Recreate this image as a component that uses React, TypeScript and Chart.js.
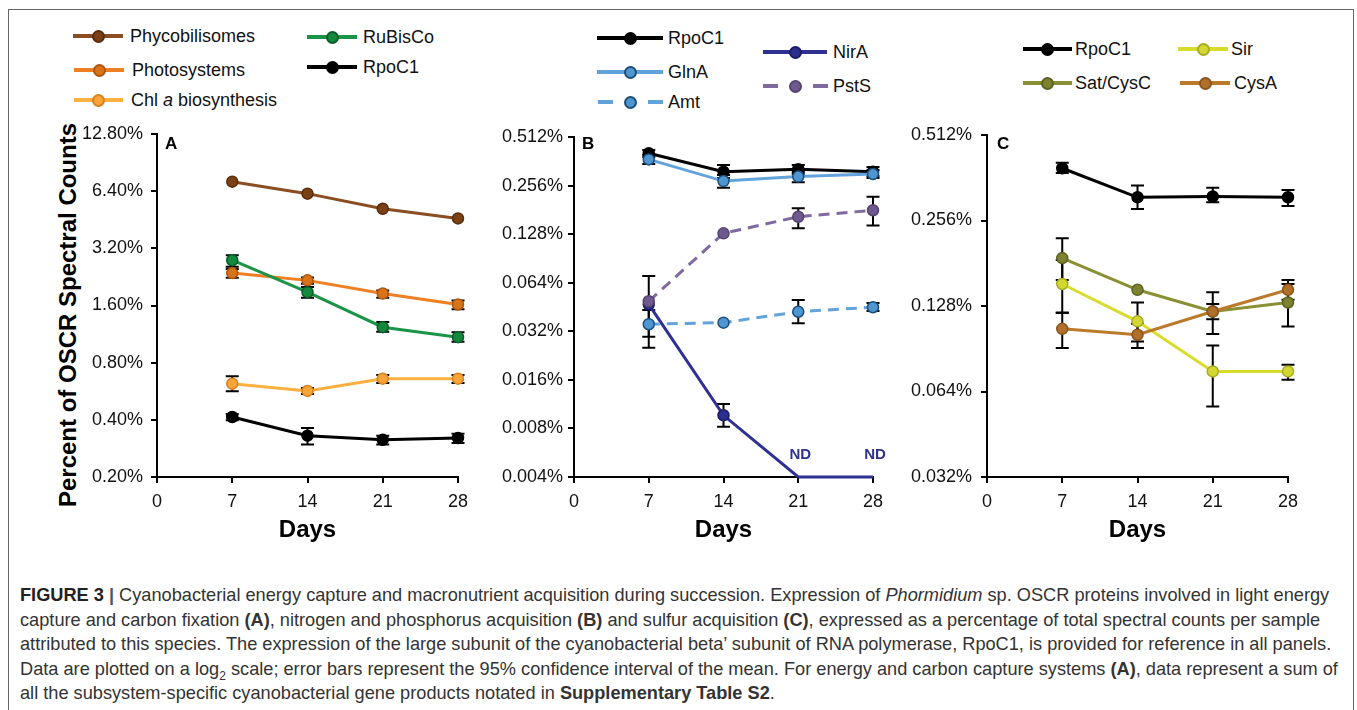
import React, { useEffect, useRef } from 'react';
import { Chart, registerables } from 'chart.js';

Chart.register(...registerables);

const FONT = "'Liberation Sans', Arial, Helvetica, sans-serif";

// ---------- shared x values ----------
const days = [7, 14, 21, 28];

// ---------- Panel A ----------
const aYTicks = [0.2, 0.4, 0.8, 1.6, 3.2, 6.4, 12.8];
const aYTickLabels = ['0.20%', '0.40%', '0.80%', '1.60%', '3.20%', '6.40%', '12.80%'];
const aPhycobilisomes = [7.18, 6.21, 5.17, 4.6];
const aRuBisCo = [2.77, 1.88, 1.23, 1.09];
const aRuBisCoLow = [2.56, 1.76, 1.165, 1.03];
const aRuBisCoHigh = [2.94, 2.0, 1.31, 1.156];
const aPhotosystems = [2.37, 2.17, 1.85, 1.62];
const aPhotosystemsLow = [2.24, 2.08, 1.76, 1.53];
const aPhotosystemsHigh = [2.49, 2.25, 1.92, 1.7];
const aChl = [0.62, 0.568, 0.659, 0.659];
const aChlLow = [0.565, 0.547, 0.625, 0.625];
const aChlHigh = [0.678, 0.588, 0.689, 0.689];
const aRpoC1 = [0.414, 0.33, 0.314, 0.321];
const aRpoC1Low = [0.398, 0.297, 0.297, 0.302];
const aRpoC1High = [0.429, 0.362, 0.33, 0.338];

// ---------- Panel B ----------
const bYTicks = [0.004, 0.008, 0.016, 0.032, 0.064, 0.128, 0.256, 0.512];
const bYTickLabels = ['0.004%', '0.008%', '0.016%', '0.032%', '0.064%', '0.128%', '0.256%', '0.512%'];
const bRpoC1 = [0.406, 0.312, 0.323, 0.312];
const bRpoC1Low = [0.385, 0.285, 0.302, 0.293];
const bRpoC1High = [0.425, 0.343, 0.343, 0.334];
const bGlnA = [0.372, 0.273, 0.291, 0.302];
const bGlnALow = [0.348, 0.248, 0.268, 0.285];
const bGlnAHigh = [0.396, 0.298, 0.311, 0.32];
const bAmt = [0.0354, 0.0362, 0.0423, 0.0451];
const bAmtLow = [0.0296, null, 0.0359, 0.0427];
const bAmtHigh = [0.0434, null, 0.05, 0.0479];
const bPstS = [0.0491, 0.1295, 0.164, 0.18];
const bPstSLow = [0.0253, null, 0.139, 0.145];
const bPstSHigh = [0.0704, null, 0.185, 0.218];
const bNirA = [0.047, 0.00965, 0.004, 0.004];
const bNirALow = [null, 0.0082, null, null];
const bNirAHigh = [null, 0.01134, null, null];
const bNirADetected = [true, true, false, false];

// ---------- Panel C ----------
const cYTicks = [0.032, 0.064, 0.128, 0.256, 0.512];
const cYTickLabels = ['0.032%', '0.064%', '0.128%', '0.256%', '0.512%'];
const cRpoC1 = [0.391, 0.309, 0.311, 0.309];
const cRpoC1Low = [0.376, 0.281, 0.297, 0.288];
const cRpoC1High = [0.409, 0.34, 0.334, 0.328];
const cSatCysC = [0.1887, 0.146, 0.1224, 0.1317];
const cSatCysCLow = [0.158, null, 0.115, 0.1085];
const cSatCysCHigh = [0.2217, null, 0.13, 0.153];
const cSir = [0.153, 0.113, 0.0753, 0.0753];
const cSirLow = [0.1214, 0.096, 0.0567, 0.0704];
const cSirHigh = [0.186, 0.1317, 0.093, 0.0795];
const cCysA = [0.1064, 0.1014, 0.1224, 0.146];
const cCysALow = [0.091, 0.091, 0.102, 0.1346];
const cCysAHigh = [0.121, 0.1108, 0.143, 0.158];

// ---------- colours ----------
const COL = {
  phyco: { line: '#8a4e22', fill: '#7a4116', border: '#5a2c0c' },
  photo: { line: '#ee7f22', fill: '#d9731a', border: '#aa5510' },
  chl: { line: '#fbb040', fill: '#f7a43a', border: '#d9801f' },
  rubisco: { line: '#1c9447', fill: '#14893d', border: '#0b5e2a' },
  rpoc1: { line: '#000000', fill: '#000000', border: '#000000' },
  glna: { line: '#62a3dc', fill: '#4f95d0', border: '#1b4f7a' },
  nira: { line: '#2e3192', fill: '#2b2f8e', border: '#1b1d66' },
  psts: { line: '#7f6a9f', fill: '#6f5a8f', border: '#55446f' },
  sir: { line: '#d8dc2c', fill: '#d3d733', border: '#a9ac1e' },
  sat: { line: '#8b9034', fill: '#7d8230', border: '#5e6223' },
  cysa: { line: '#ba7a2a', fill: '#b0702a', border: '#8a5520' },
};

type Series = {
  label: string;
  values: number[];
  low?: (number | null)[];
  high?: (number | null)[];
  c: { line: string; fill: string; border: string };
  dashed?: boolean;
  detected?: boolean[];
};

const errorBarPlugin = {
  id: 'errorBars',
  beforeDatasetsDraw(chart: any) {
    const ctx = chart.ctx;
    const xs = chart.scales.x;
    const ys = chart.scales.y;
    ctx.save();
    ctx.strokeStyle = '#000';
    ctx.lineWidth = 2;
    chart.data.datasets.forEach((ds: any) => {
      const lo = ds.errLow;
      const hi = ds.errHigh;
      if (!lo || !hi) return;
      ds.data.forEach((pt: any, j: number) => {
        if (lo[j] == null || hi[j] == null) return;
        const x = xs.getPixelForValue(pt.x);
        const y1 = ys.getPixelForValue(hi[j]);
        const y2 = ys.getPixelForValue(lo[j]);
        const w = 6.5;
        ctx.beginPath();
        ctx.moveTo(x, y1);
        ctx.lineTo(x, y2);
        ctx.moveTo(x - w, y1);
        ctx.lineTo(x + w, y1);
        ctx.moveTo(x - w, y2);
        ctx.lineTo(x + w, y2);
        ctx.stroke();
      });
    });
    ctx.restore();
  },
};

const ndPlugin = {
  id: 'ndLabels',
  afterDatasetsDraw(chart: any) {
    const ctx = chart.ctx;
    const xs = chart.scales.x;
    const ys = chart.scales.y;
    chart.data.datasets.forEach((ds: any) => {
      if (!ds.detected) return;
      ds.data.forEach((pt: any, j: number) => {
        if (ds.detected[j]) return;
        ctx.save();
        ctx.fillStyle = ds.borderColor;
        ctx.font = `bold 15px ${FONT}`;
        ctx.textAlign = 'center';
        ctx.textBaseline = 'middle';
        ctx.fillText('ND', xs.getPixelForValue(pt.x) + 2, ys.getPixelForValue(pt.y) - 22);
        ctx.restore();
      });
    });
  },
};

type PanelProps = {
  left: number;
  top: number;
  width: number;
  height: number;
  area: { l: number; t: number; r: number; b: number };
  yTicks: number[];
  yLabels: string[];
  yPad: number;
  series: Series[];
};

function Panel(p: PanelProps) {
  const ref = useRef<HTMLCanvasElement | null>(null);
  useEffect(() => {
    if (!ref.current) return;
    const axisGrid = {
      drawOnChartArea: false,
      drawTicks: true,
      tickLength: 6,
      color: '#000',
      lineWidth: 2,
    };
    const chart = new Chart(ref.current, {
      type: 'line',
      data: {
        datasets: p.series.map((s) => ({
          label: s.label,
          data: days.map((d, i) => ({ x: d, y: s.values[i] })),
          borderColor: s.c.line,
          backgroundColor: s.c.fill,
          pointBackgroundColor: s.c.fill,
          pointBorderColor: s.c.border,
          pointRadius: s.detected ? s.detected.map((v) => (v ? 5.5 : 0)) : 5.5,
          pointBorderWidth: 1.5,
          borderWidth: 3,
          borderDash: s.dashed ? [11, 7] : [],
          tension: 0,
          clip: false,
          errLow: s.low,
          errHigh: s.high,
          detected: s.detected,
        })) as any,
      },
      options: {
        responsive: false,
        animation: false,
        events: [],
        layout: {
          padding: { top: p.area.t - p.top, right: p.left + p.width - p.area.r, bottom: 0, left: 0 },
        },
        plugins: { legend: { display: false }, tooltip: { enabled: false } },
        scales: {
          x: {
            type: 'linear',
            min: 0,
            max: 28,
            ticks: { stepSize: 7, font: { size: 18, family: FONT }, color: '#111', padding: 8 },
            grid: axisGrid,
            border: { color: '#000', width: 2 },
            title: {
              display: true,
              text: 'Days',
              font: { size: 24, weight: 'bold', family: FONT },
              color: '#000',
              padding: { top: 0, bottom: 5 },
            },
            afterFit: (s: any) => {
              s.height = p.top + p.height - p.area.b;
            },
          },
          y: {
            type: 'logarithmic',
            min: p.yTicks[0],
            max: p.yTicks[p.yTicks.length - 1],
            afterBuildTicks: (s: any) => {
              s.ticks = p.yTicks.map((v) => ({ value: v }));
            },
            ticks: {
              autoSkip: false,
              callback: (_v: any, i: number) => p.yLabels[i],
              font: { size: 18, family: FONT },
              color: '#111',
              padding: p.yPad,
            },
            grid: axisGrid,
            border: { color: '#000', width: 2 },
            afterFit: (s: any) => {
              s.width = p.area.l - p.left;
            },
          },
        } as any,
      },
      plugins: [errorBarPlugin, ndPlugin],
    });
    return () => chart.destroy();
  }, []);
  return (
    <canvas
      ref={ref}
      width={p.width}
      height={p.height}
      style={{ position: 'absolute', left: p.left, top: p.top, width: p.width, height: p.height }}
    />
  );
}

type LegendProps = {
  x1: number;
  x2: number;
  y: number;
  textX: number;
  c: { line: string; fill: string; border: string };
  dashed?: boolean;
  children: React.ReactNode;
};

function LegendEntry({ x1, x2, y, textX, c, dashed, children }: LegendProps) {
  const mx = (x1 + x2) / 2;
  const lineStyle = (l: number, w: number): React.CSSProperties => ({
    position: 'absolute',
    left: l,
    top: y - 1.75,
    width: w,
    height: 3.5,
    background: c.line,
  });
  return (
    <>
      {dashed ? (
        <>
          <div style={lineStyle(x1, 15)} />
          <div style={lineStyle(x2 - 15, 15)} />
        </>
      ) : (
        <div style={lineStyle(x1, x2 - x1)} />
      )}
      <div
        style={{
          position: 'absolute',
          left: mx - 6.5,
          top: y - 6.5,
          width: 13,
          height: 13,
          boxSizing: 'border-box',
          borderRadius: '50%',
          background: c.fill,
          border: `2px solid ${c.border}`,
        }}
      />
      <div
        style={{
          position: 'absolute',
          left: textX,
          top: y - 11,
          fontSize: 18,
          lineHeight: '22px',
          fontFamily: FONT,
          whiteSpace: 'nowrap',
          color: '#111',
        }}
      >
        {children}
      </div>
    </>
  );
}

const panelLetter = (x: number, y: number, t: string) => (
  <div
    style={{
      position: 'absolute',
      left: x,
      top: y,
      fontFamily: FONT,
      fontWeight: 'bold',
      fontSize: 17,
      lineHeight: '20px',
      color: '#000',
    }}
  >
    {t}
  </div>
);

export default function App() {
  const seriesA: Series[] = [
    { label: 'Phycobilisomes', values: aPhycobilisomes, c: COL.phyco },
    { label: 'RuBisCo', values: aRuBisCo, low: aRuBisCoLow, high: aRuBisCoHigh, c: COL.rubisco },
    { label: 'Photosystems', values: aPhotosystems, low: aPhotosystemsLow, high: aPhotosystemsHigh, c: COL.photo },
    { label: 'Chl a biosynthesis', values: aChl, low: aChlLow, high: aChlHigh, c: COL.chl },
    { label: 'RpoC1', values: aRpoC1, low: aRpoC1Low, high: aRpoC1High, c: COL.rpoc1 },
  ];
  const seriesB: Series[] = [
    { label: 'GlnA', values: bGlnA, low: bGlnALow, high: bGlnAHigh, c: COL.glna },
    { label: 'RpoC1', values: bRpoC1, low: bRpoC1Low, high: bRpoC1High, c: COL.rpoc1 },
    { label: 'PstS', values: bPstS, low: bPstSLow, high: bPstSHigh, c: COL.psts, dashed: true },
    { label: 'Amt', values: bAmt, low: bAmtLow, high: bAmtHigh, c: COL.glna, dashed: true },
    { label: 'NirA', values: bNirA, low: bNirALow, high: bNirAHigh, c: COL.nira, detected: bNirADetected },
  ];
  const seriesC: Series[] = [
    { label: 'RpoC1', values: cRpoC1, low: cRpoC1Low, high: cRpoC1High, c: COL.rpoc1 },
    { label: 'CysA', values: cCysA, low: cCysALow, high: cCysAHigh, c: COL.cysa },
    { label: 'Sir', values: cSir, low: cSirLow, high: cSirHigh, c: COL.sir },
    { label: 'Sat/CysC', values: cSatCysC, low: cSatCysCLow, high: cSatCysCHigh, c: COL.sat },
  ];

  return (
    <div
      style={{
        position: 'fixed',
        left: 0,
        top: 0,
        width: 1357,
        height: 710,
        overflow: 'hidden',
        background: '#fff',
        fontFamily: FONT,
      }}
    >
      <div
        style={{
          position: 'absolute',
          left: 8,
          top: 9,
          width: 1346,
          height: 740,
          boxSizing: 'border-box',
          border: '1px solid #666',
        }}
      />

      {/* Legends */}
      <LegendEntry x1={73} x2={123} y={36} textX={130} c={COL.phyco}>Phycobilisomes</LegendEntry>
      <LegendEntry x1={74} x2={124} y={70} textX={132} c={COL.photo}>Photosystems</LegendEntry>
      <LegendEntry x1={74} x2={123} y={100} textX={131} c={COL.chl}>
        Chl <i>a</i> biosynthesis
      </LegendEntry>
      <LegendEntry x1={307} x2={357} y={37} textX={363} c={COL.rubisco}>RuBisCo</LegendEntry>
      <LegendEntry x1={307} x2={357} y={67} textX={363} c={COL.rpoc1}>RpoC1</LegendEntry>

      <LegendEntry x1={597} x2={663} y={38} textX={668} c={COL.rpoc1}>RpoC1</LegendEntry>
      <LegendEntry x1={597} x2={663} y={72} textX={668} c={COL.glna}>GlnA</LegendEntry>
      <LegendEntry x1={598} x2={663} y={102} textX={668} c={COL.glna} dashed>Amt</LegendEntry>
      <LegendEntry x1={763} x2={827} y={52} textX={833} c={COL.nira}>NirA</LegendEntry>
      <LegendEntry x1={763} x2={828} y={86} textX={833} c={COL.psts} dashed>PstS</LegendEntry>

      <LegendEntry x1={1023} x2={1072} y={49} textX={1075} c={COL.rpoc1}>RpoC1</LegendEntry>
      <LegendEntry x1={1023} x2={1072} y={83} textX={1075} c={COL.sat}>Sat/CysC</LegendEntry>
      <LegendEntry x1={1178} x2={1228} y={49} textX={1231} c={COL.sir}>Sir</LegendEntry>
      <LegendEntry x1={1180} x2={1230} y={83} textX={1234} c={COL.cysa}>CysA</LegendEntry>

      {/* Y axis title for panel A */}
      <div
        style={{
          position: 'absolute',
          left: 68,
          top: 315,
          transform: 'translate(-50%, -50%) rotate(-90deg)',
          whiteSpace: 'nowrap',
          fontFamily: FONT,
          fontWeight: 'bold',
          fontSize: 24,
          lineHeight: '28px',
          color: '#000',
        }}
      >
        Percent of OSCR Spectral Counts
      </div>

      <Panel
        left={60}
        top={110}
        width={420}
        height={440}
        area={{ l: 157, t: 134, r: 458, b: 477 }}
        yTicks={aYTicks}
        yLabels={aYTickLabels}
        yPad={8}
        series={seriesA}
      />
      <Panel
        left={500}
        top={110}
        width={400}
        height={440}
        area={{ l: 574, t: 137, r: 873, b: 477 }}
        yTicks={bYTicks}
        yLabels={bYTickLabels}
        yPad={5}
        series={seriesB}
      />
      <Panel
        left={905}
        top={110}
        width={415}
        height={440}
        area={{ l: 987, t: 135, r: 1288, b: 477 }}
        yTicks={cYTicks}
        yLabels={cYTickLabels}
        yPad={9}
        series={seriesC}
      />

      {panelLetter(165, 134, 'A')}
      {panelLetter(582, 134, 'B')}
      {panelLetter(997, 134, 'C')}

      {/* Caption */}
      <div
        style={{
          position: 'absolute',
          left: 20,
          top: 583,
          fontFamily: FONT,
          fontSize: 18.2,
          lineHeight: '24.5px',
          color: '#333',
          whiteSpace: 'nowrap',
        }}
      >
        <div>
          <b style={{ color: '#222' }}>FIGURE 3</b> <b style={{ color: '#555' }}>|</b> Cyanobacterial energy capture
          and macronutrient acquisition during succession. Expression of <i>Phormidium</i> sp. OSCR proteins involved
          in light energy
        </div>
        <div>
          capture and carbon fixation <b>(A)</b>, nitrogen and phosphorus acquisition <b>(B)</b> and sulfur
          acquisition <b>(C)</b>, expressed as a percentage of total spectral counts per sample
        </div>
        <div>
          attributed to this species. The expression of the large subunit of the cyanobacterial beta’ subunit of RNA
          polymerase, RpoC1, is provided for reference in all panels.
        </div>
        <div>
          Data are plotted on a log<sub style={{ fontSize: 12, lineHeight: 0 }}>2</sub> scale; error bars represent the
          95% confidence interval of the mean. For energy and carbon capture systems <b>(A)</b>, data represent a sum
          of
        </div>
        <div>
          all the subsystem-specific cyanobacterial gene products notated in <b>Supplementary Table S2</b>.
        </div>
      </div>
    </div>
  );
}
